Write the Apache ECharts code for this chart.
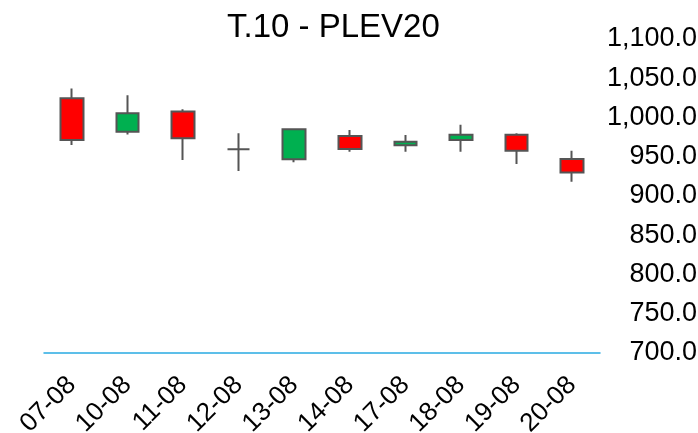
<!DOCTYPE html>
<html>
<head>
<meta charset="utf-8">
<style>html,body{margin:0;padding:0;background:#fff;}#c{width:698px;height:433px;}</style>
<script src="https://cdn.jsdelivr.net/npm/echarts@6/dist/echarts.min.js"></script>
</head>
<body>
<div id="c"></div>
<script>
var categories = ['07-08','10-08','11-08','12-08','13-08','14-08','17-08','18-08','19-08','20-08'];
// [open, close, low, high]
var openVals  = [1024.5, 982.0, 1007.5, 959.5, 946.7, 976.4, 964.6, 971.3, 978.0, 947.0];
var closeVals = [ 971.3, 1005.3, 973.5, 959.5, 985.0, 960.0, 969.2, 978.0, 957.7, 930.0];
var lowVals   = [ 965.0, 978.5, 946.0, 931.8, 943.0, 956.4, 956.4, 956.4, 940.8, 918.2];
var highVals  = [1037.0, 1028.5, 1010.5, 979.9, 986.2, 984.0, 977.7, 990.8, 980.0, 957.7];
var yMin = 700, yMax = 1100, yStep = 50;

var data = categories.map(function(c, i){ return [openVals[i], closeVals[i], lowVals[i], highVals[i]]; });

var chart = echarts.init(document.getElementById('c'), null, {renderer:'canvas'});
var font = 'Liberation Sans, Arial, sans-serif';
chart.setOption({
  animation: false,
  backgroundColor: '#ffffff',
  title: {
    text: 'T.10 - PLEV20',
    left: 222, top: 6,
    textStyle: {fontFamily: font, fontSize: 33, fontWeight: 'normal', color: '#000'}
  },
  grid: {left: 44, right: 98, top: 39, bottom: 80, containLabel: false, outerBoundsMode: 'none'},
  xAxis: {
    type: 'category',
    data: categories,
    boundaryGap: true,
    axisLine: {show: true, lineStyle: {color: '#29abe2', width: 1.5}},
    axisTick: {show: false},
    axisLabel: {rotate: 45, fontFamily: font, fontSize: 26, color: '#000', margin: 28, interval: 0},
    splitLine: {show: false}
  },
  yAxis: {
    type: 'value',
    position: 'right',
    min: yMin, max: yMax, interval: yStep,
    scale: true,
    axisLine: {show: false},
    axisTick: {show: false},
    splitLine: {show: false},
    axisLabel: {
      fontFamily: font, fontSize: 27, color: '#000', align: 'right', margin: 97,
      formatter: function(v){ return v.toLocaleString('en-US', {minimumFractionDigits:1, maximumFractionDigits:1}); }
    }
  },
  series: [{
    type: 'candlestick',
    data: data,
    barWidth: 23,
    itemStyle: {
      color: '#00b050', color0: '#ff0000',
      borderColor: '#555555', borderColor0: '#555555', borderColorDoji: '#555555',
      borderWidth: 2
    }
  }]
});
</script>
</body>
</html>
